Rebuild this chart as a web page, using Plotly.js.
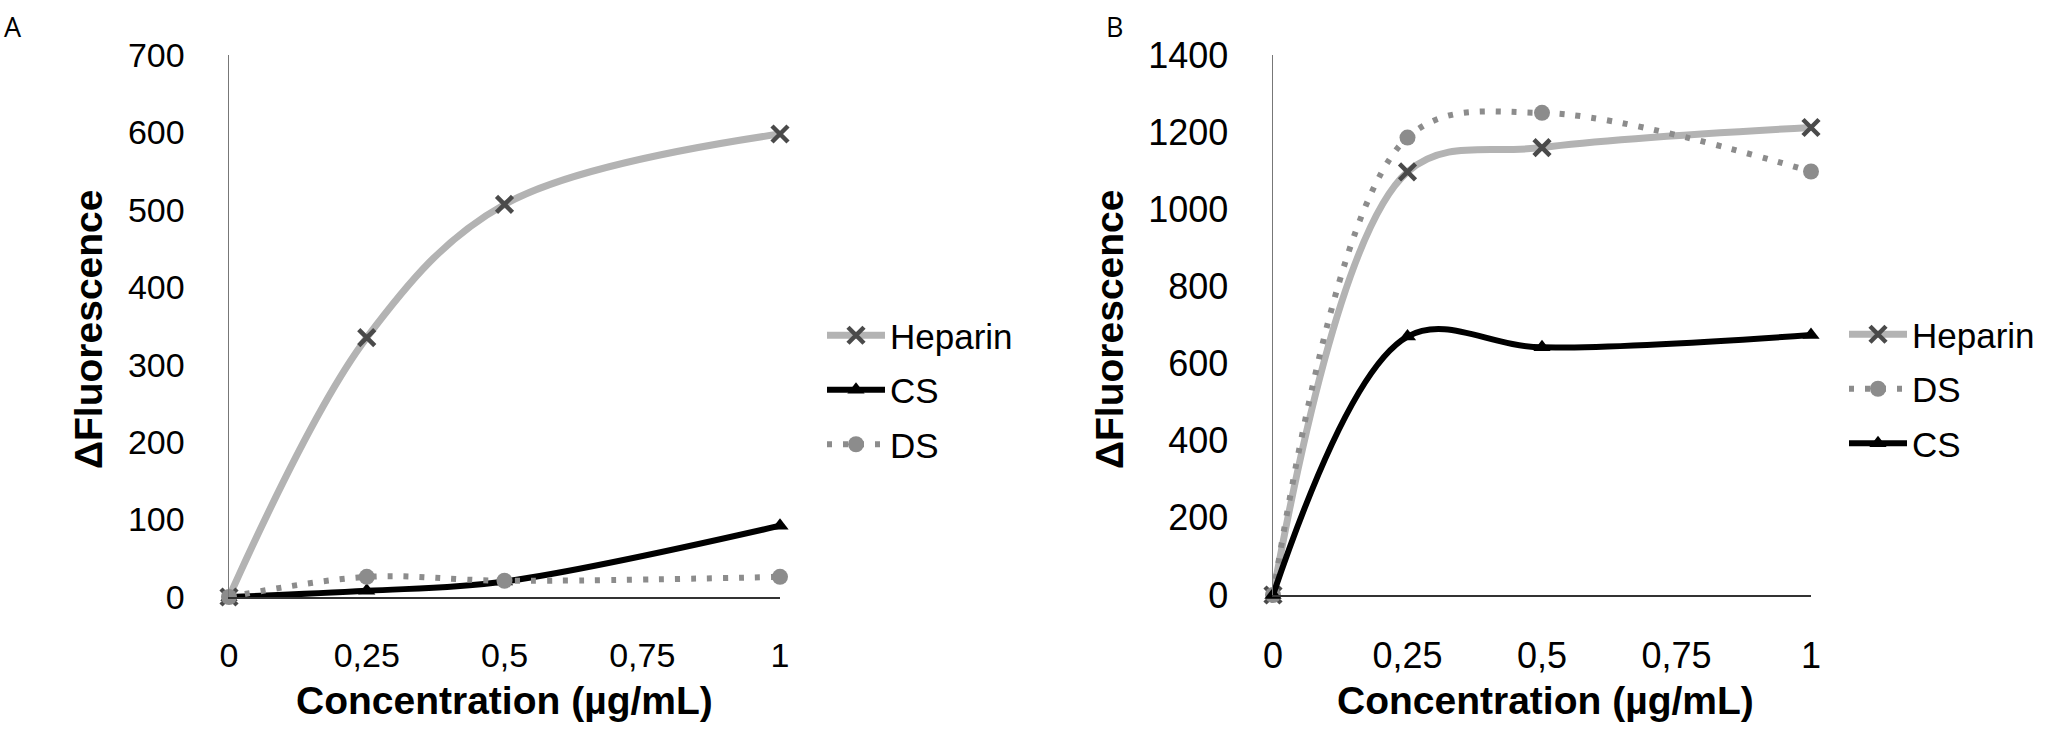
<!DOCTYPE html>
<html>
<head>
<meta charset="utf-8">
<script src="https://cdn.plot.ly/plotly-3.0.1.min.js"></script>
<style>
  body { margin: 0; background: #fff; }
  #chart { width: 2051px; height: 732px; }
</style>
</head>
<body>
<div id="chart"></div>
<script>
// concentrations (µg/mL)
const conc = [0, 0.25, 0.5, 1];
const xTickVals = [0, 0.25, 0.5, 0.75, 1];
const xTickText = ['0', '0,25', '0,5', '0,75', '1'];

// panel A
const heparinA = [0, 335, 507, 598];
const csA = [0, 8, 20, 92];
const dsA = [0, 26, 21, 26];
const yTicksA = [0, 100, 200, 300, 400, 500, 600, 700];

// panel B
const heparinB = [0, 1097, 1160, 1212];
const dsB = [0, 1186, 1250, 1098];
const csB = [0, 670, 642, 674];
const yTicksB = [0, 200, 400, 600, 800, 1000, 1200, 1400];

const W = 2051, H = 732;
const px = v => v / W;
const py = v => (H - v) / H;
const FONT = 'Liberation Sans, Arial, sans-serif';

function heparin(y, xa, ya, leg) {
  return {
    x: conc, y: y, name: 'Heparin', xaxis: xa, yaxis: ya, legend: leg, legendgroup: 'h' + leg,
    type: 'scatter', mode: 'lines+markers', cliponaxis: false,
    line: {color: '#b3b3b3', width: 7, shape: 'spline', smoothing: 1},
    marker: {symbol: 'x-thin', size: 16, line: {color: '#4a4a4a', width: 4.5}}
  };
}
function cs(y, xa, ya, leg) {
  return {
    x: conc, y: y, name: 'CS', xaxis: xa, yaxis: ya, legend: leg, legendgroup: 'c' + leg,
    type: 'scatter', mode: 'lines+markers', cliponaxis: false,
    line: {color: '#000000', width: 6, shape: 'spline', smoothing: 1},
    marker: {symbol: 'triangle-up', size: 15, color: '#000000'}
  };
}
function ds(y, xa, ya, leg) {
  return {
    x: conc, y: y, name: 'DS', xaxis: xa, yaxis: ya, legend: leg, legendgroup: 'd' + leg,
    type: 'scatter', mode: 'lines+markers', cliponaxis: false,
    line: {color: '#8c8c8c', width: 6, dash: '5px,11px', shape: 'spline', smoothing: 1},
    marker: {symbol: 'circle', size: 16, color: '#8c8c8c'}
  };
}

const data = [
  heparin(heparinA, 'x', 'y', 'legend'),
  cs(csA, 'x', 'y', 'legend'),
  ds(dsA, 'x', 'y', 'legend'),
  heparin(heparinB, 'x2', 'y2', 'legend2'),
  ds(dsB, 'x2', 'y2', 'legend2'),
  cs(csB, 'x2', 'y2', 'legend2')
];

function xAxis(dom, anchor, fs) {
  return {
    domain: dom, anchor: anchor, range: [0, 1], fixedrange: true,
    tickvals: xTickVals, ticktext: xTickText, ticks: '', ticklabelstandoff: 28,
    showgrid: false, zeroline: false, showline: true, linecolor: '#333', linewidth: 1.5,
    tickfont: {family: FONT, size: fs, color: '#000'}
  };
}
function yAxis(dom, anchor, range, vals, fs) {
  return {
    domain: dom, anchor: anchor, range: range, fixedrange: true,
    tickvals: vals, ticks: '', ticklabelstandoff: 36,
    showgrid: false, zeroline: false, showline: true, linecolor: '#777', linewidth: 1.5,
    tickfont: {family: FONT, size: fs, color: '#000'}
  };
}

function legendAt(x, y) {
  return {
    x: px(x), y: py(y), xanchor: 'left', yanchor: 'top',
    bgcolor: 'rgba(0,0,0,0)', itemwidth: 58, tracegroupgap: 6, traceorder: 'grouped',
    font: {family: FONT, size: 35, color: '#000'}
  };
}

const title = (text, x, y, rot) => ({
  text: text, xref: 'paper', yref: 'paper', x: px(x), y: py(y),
  xanchor: 'center', yanchor: 'middle', showarrow: false, textangle: rot,
  font: {family: FONT, size: 39, color: '#000', weight: 'bold'}
});
const panel = (text, x, y) => ({
  text: text, xref: 'paper', yref: 'paper', x: px(x), y: py(y),
  xanchor: 'left', yanchor: 'top', showarrow: false,
  font: {family: 'Open Sans, sans-serif', size: 27, color: '#000'}
});

const layout = {
  width: W, height: H,
  margin: {l: 0, r: 0, t: 0, b: 0},
  paper_bgcolor: '#fff', plot_bgcolor: '#fff',
  showlegend: true,
  xaxis: xAxis([px(229), px(780)], 'y', 34),
  yaxis: yAxis([py(597), py(55)], 'x', [0, 700], yTicksA, 34),
  xaxis2: xAxis([px(1273), px(1811)], 'y2', 36),
  yaxis2: yAxis([py(595), py(55)], 'x2', [0, 1400], yTicksB, 36),
  legend: legendAt(822, 306),
  legend2: legendAt(1844, 305),
  annotations: [
    title('Concentration (µg/mL)', 504, 700, 0),
    title('ΔFluorescence', 89, 330, -90),
    title('Concentration (µg/mL)', 1545, 700, 0),
    title('ΔFluorescence', 1110, 330, -90),
    panel('A', 2, 6),
    panel('B', 1104, 6)
  ]
};

Plotly.newPlot('chart', data, layout, {staticPlot: true, displayModeBar: false});
</script>
</body>
</html>
